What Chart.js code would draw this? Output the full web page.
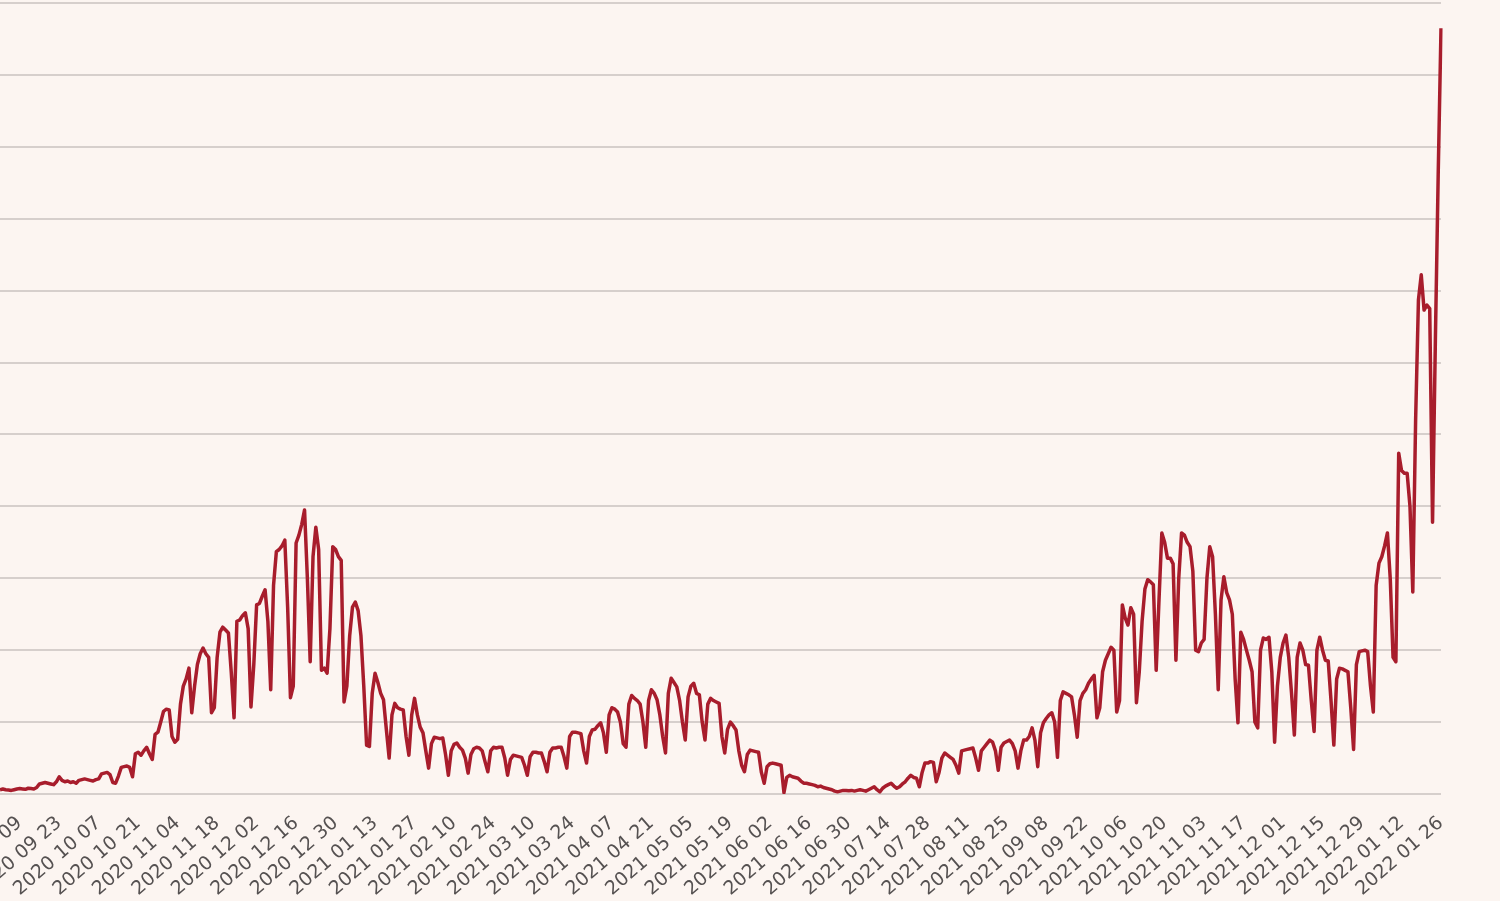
<!DOCTYPE html>
<html>
<head>
<meta charset="utf-8">
<script src="https://cdn.jsdelivr.net/npm/chart.js@4.4.1/dist/chart.umd.min.js"></script>
<style>
html,body{margin:0;padding:0;background:#fcf5f1;overflow:hidden;}
#wrap{position:absolute;left:0;top:0;width:1500px;height:901px;}
canvas{display:block;}
</style>
</head>
<body>
<div id="wrap"><canvas id="c" width="1500" height="901"></canvas></div>
<script>
// Daily values, one array per month (first day: 2020-09-02)
const sep2020 = [60,70,60,55,50,60,70,75,70,65,80,75,70,90,140,150,160,150,140,130,170,240,190,170,180,160,170,150,190];
const oct2020 = [200,210,200,190,180,200,210,280,290,300,270,160,150,250,370,380,390,370,240,560,580,540,600,650,560,480,830,860,1000,1150,1180];
const nov2020 = [1170,800,720,760,1250,1500,1600,1750,1130,1500,1800,1950,2030,1950,1900,1130,1200,1900,2250,2320,2280,2240,1700,1060,2400,2420,2480,2520,2300,1210];
const dec2020 = [1800,2630,2650,2750,2840,2400,1450,2900,3370,3400,3450,3530,2600,1340,1500,3490,3600,3750,3950,3000,1840,3300,3710,3400,1720,1750,1680,2300,3440,3400,3300];
const jan2021 = [3250,1280,1500,2200,2600,2670,2550,2200,1500,680,660,1400,1680,1550,1400,1310,900,500,1100,1260,1200,1180,1170,800,540,1100,1330,1100,930,850,600];
const feb2021 = [360,700,790,780,770,780,550,260,600,690,710,650,610,500,290,550,630,650,640,600,450,310,600,650,640,650,650,500];
const mar2021 = [260,480,540,530,520,510,400,260,520,580,580,570,570,450,310,580,640,640,650,650,520,360,800,860,860,850,840,600,430,800,890];
const apr2021 = [900,950,990,850,580,1100,1200,1180,1140,1000,700,650,1250,1370,1330,1300,1250,1000,650,1300,1450,1400,1310,1100,800,570,1400,1610,1550,1490];
const may2021 = [1300,1000,750,1350,1500,1540,1400,1380,1000,750,1250,1330,1300,1280,1260,800,570,900,1000,950,890,600,400,310,550,610,600,590,580,300,150];
const jun2021 = [380,420,430,420,410,400,20,230,260,240,230,220,180,150,150,140,130,120,100,110,90,80,70,60,40,30,40,50,50,45];
const jul2021 = [50,40,50,60,50,40,60,80,100,60,30,80,110,130,150,110,80,100,140,170,220,260,230,220,100,300,430,430,450,440,170];
const aug2021 = [300,500,570,540,510,480,400,290,600,610,620,630,640,500,330,600,650,700,750,720,600,330,650,710,730,750,700,600,360,600,750];
const sep2021 = [750,800,920,750,380,850,990,1050,1100,1130,1000,510,1300,1420,1400,1380,1350,1100,790,1300,1400,1450,1540,1600,1650,1060,1200,1700,1860,1950];
const oct2021 = [2040,2000,1140,1300,2630,2450,2350,2590,2500,1270,1700,2400,2850,2980,2950,2910,1720,2700,3630,3500,3280,3280,3200,1860,3000,3630,3600,3500,3440,3100,2000];
const nov2021 = [1980,2100,2150,3000,3440,3300,2500,1450,2700,3020,2800,2700,2500,1600,990,2250,2150,2000,1860,1700,1000,920,2000,2170,2150,2180,1700,720,1500,1900];
const dec2021 = [2100,2210,1900,1400,820,1900,2100,2000,1800,1790,1300,870,2000,2180,2000,1860,1850,1300,680,1600,1750,1740,1720,1700,1200,620,1800,1980,1990,2000,1980];
const jan2022 = [1500,1140,2900,3210,3300,3450,3630,3000,1900,1840,4740,4500,4460,4460,4000,2810,5200,6870,7220,6730,6800,6750,3780,6300,8600,10650];

// Tick labels shown on the x axis (every 14 days)
const tickLabels = ['2020 09 09','2020 09 23','2020 10 07','2020 10 21','2020 11 04','2020 11 18','2020 12 02','2020 12 16','2020 12 30','2021 01 13','2021 01 27','2021 02 10','2021 02 24','2021 03 10','2021 03 24','2021 04 07','2021 04 21','2021 05 05','2021 05 19','2021 06 02','2021 06 16','2021 06 30','2021 07 14','2021 07 28','2021 08 11','2021 08 25','2021 09 08','2021 09 22','2021 10 06','2021 10 20','2021 11 03','2021 11 17','2021 12 01','2021 12 15','2021 12 29','2022 01 12','2022 01 26'];

const yMin = 0, yMax = 11000, yStep = 1000;

const series = [].concat(sep2020, oct2020, nov2020, dec2020, jan2021, feb2021, mar2021, apr2021, may2021, jun2021, jul2021, aug2021, sep2021, oct2021, nov2021, dec2021, jan2022);

// daily category labels
const categories = [];
const d0 = Date.UTC(2020, 8, 2);
for (let i = 0; i < series.length; i++) {
  const d = new Date(d0 + i * 86400000);
  categories.push(d.getUTCFullYear() + ' ' + String(d.getUTCMonth() + 1).padStart(2, '0') + ' ' + String(d.getUTCDate()).padStart(2, '0'));
}
const tickSet = new Set(tickLabels);

const bgPlugin = {
  id: 'bg',
  beforeDraw(chart) {
    const c = chart.ctx;
    c.save();
    c.fillStyle = '#fcf5f1';
    c.fillRect(0, 0, chart.width, chart.height);
    c.restore();
  }
};

new Chart(document.getElementById('c'), {
  type: 'line',
  data: {
    labels: categories,
    datasets: [{
      data: series,
      borderColor: '#a81d2c',
      borderWidth: 3.5,
      pointRadius: 0,
      tension: 0,
      fill: false,
      borderJoinStyle: 'round'
    }]
  },
  options: {
    responsive: false,
    animation: false,
    devicePixelRatio: 1,
    layout: { padding: { left: 0, right: 59, top: 3, bottom: 0 } },
    plugins: { legend: { display: false }, tooltip: { enabled: false } },
    scales: {
      x: {
        grid: { display: false, drawTicks: false },
        border: { display: false },
        ticks: {
          autoSkip: false,
          minRotation: 41,
          maxRotation: 41,
          padding: 18,
          color: '#555151',
          font: { family: 'DejaVu Sans', size: 19 },
          callback: function (v) {
            const l = this.getLabelForValue(v);
            return tickSet.has(l) ? l : '';
          }
        },
        afterFit: function (s) { s.height = 107; s.paddingLeft = 0; s.paddingRight = 0; }
      },
      y: {
        min: yMin,
        max: yMax,
        ticks: { display: false, stepSize: yStep },
        grid: { color: '#d6cfcc', lineWidth: 2, drawTicks: false },
        border: { display: false },
        afterFit: function (s) { s.width = 0; }
      }
    }
  },
  plugins: [bgPlugin]
});
</script>
</body>
</html>
